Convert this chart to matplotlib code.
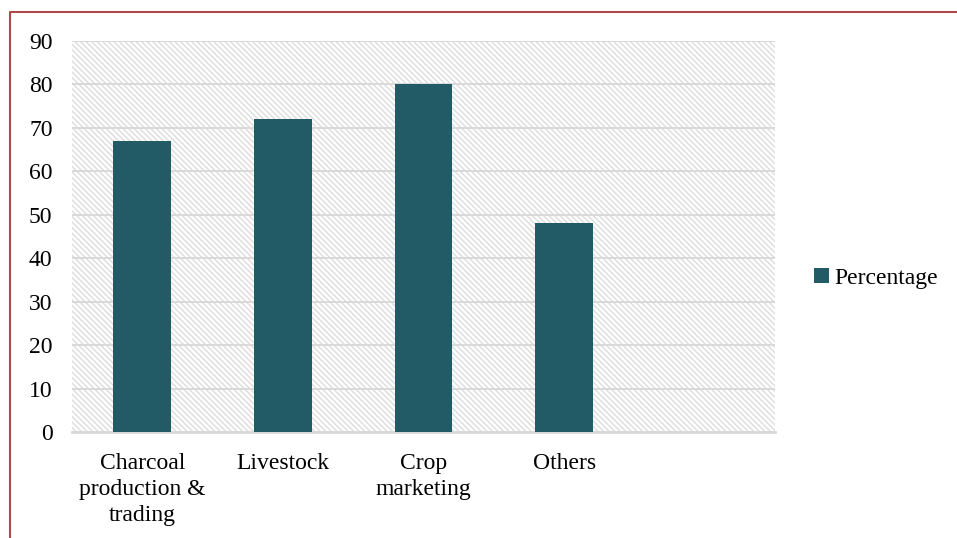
import matplotlib
matplotlib.use("Agg")
import matplotlib.pyplot as plt
from matplotlib.lines import Line2D
from matplotlib.patches import Patch

categories = ["Charcoal\nproduction &\ntrading", "Livestock", "Crop\nmarketing", "Others", ""]
percentage = [67, 72, 80, 48, None]
yticks = [0, 10, 20, 30, 40, 50, 60, 70, 80, 90]

BAR = "#225a66"
GRID = "#d9d9d9"
FRAME = "#b04a4a"
STRIPE = "#dcdcdc"

plt.rcParams["font.family"] = ["Liberation Serif", "DejaVu Serif"]
plt.rcParams["hatch.color"] = STRIPE
plt.rcParams["hatch.linewidth"] = 1.0

fig = plt.figure(figsize=(9.57, 5.38), dpi=100)
ax = fig.add_axes([0.0752, 0.197, 0.7346, 0.7268])

# striped plot background
ax.patch.set_facecolor("white")
ax.patch.set_hatch("\\" * 6)
ax.patch.set_edgecolor(STRIPE)
ax.patch.set_linewidth(0)

x = list(range(len(categories)))
heights = [v if v is not None else 0 for v in percentage]
ax.bar(x, heights, width=0.41, color=BAR, zorder=3, label="Percentage")

ax.set_xlim(-0.5, len(categories) - 0.5)
ax.set_ylim(0, 90)
ax.set_yticks(yticks)
ax.set_xticks(x)
ax.set_xticklabels(categories, linespacing=1.32)
ax.tick_params(axis="both", length=0, labelsize=17, colors="black")
ax.tick_params(axis="y", pad=14)
ax.tick_params(axis="x", pad=15)
ax.yaxis.grid(True, color=GRID, linewidth=1.4, zorder=1)
ax.set_axisbelow(True)
for side in ("top", "right", "left"):
    ax.spines[side].set_visible(False)
ax.spines["bottom"].set_color(GRID)
ax.spines["bottom"].set_linewidth(2)

fig.legend(handles=[Patch(facecolor=BAR)], labels=["Percentage"],
           loc="center left", bbox_to_anchor=(0.851, 0.483), frameon=False,
           fontsize=17, handlelength=0.6, handleheight=0.6, handletextpad=0.25,
           borderpad=0, borderaxespad=0)

# outer frame (left and top edges)
fig.add_artist(Line2D([10 / 957, 10 / 957, 957 / 957], [0, 1 - 12 / 538, 1 - 12 / 538],
                      transform=fig.transFigure, color=FRAME, linewidth=1.5))

fig.savefig("out.png", dpi=100)
